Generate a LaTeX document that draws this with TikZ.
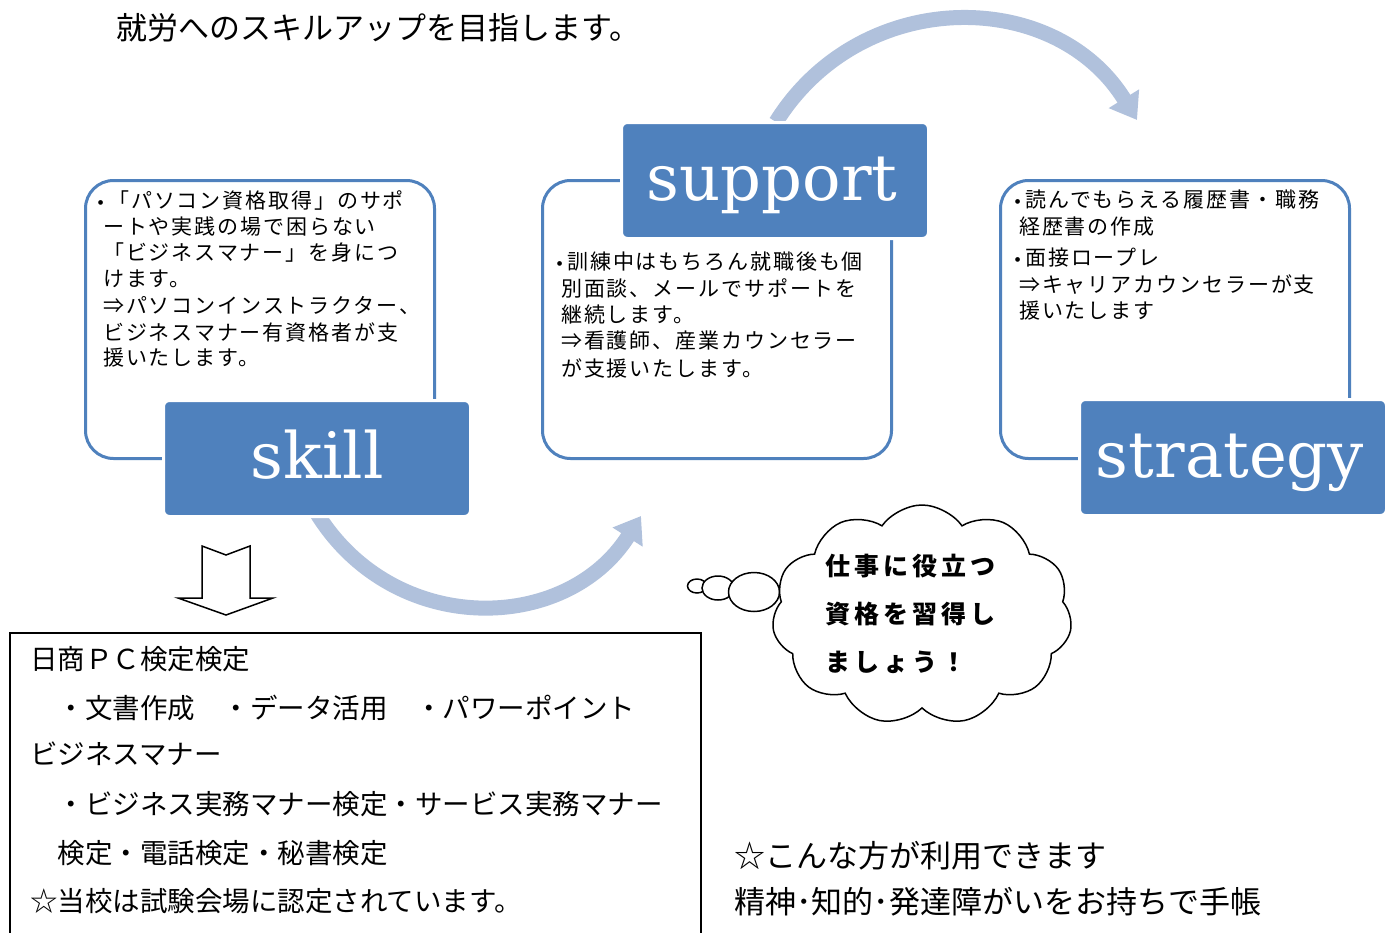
\documentclass[tikz,border=0pt]{standalone}
\usepackage{fontspec}
\newfontfamily\jp{Noto Sans CJK JP}
\newfontfamily\jpsp{Noto Sans CJK JP}[LetterSpace=9]
\newfontfamily\jpcl{Noto Sans CJK JP}[LetterSpace=16]
\newfontfamily\tagfont{DejaVu Serif}
\usetikzlibrary{arrows.meta,shapes.symbols,shapes.geometric}
\definecolor{accent}{HTML}{4F81BD}
\definecolor{arcblue}{HTML}{B0C1DC}
\tikzset{
  infobox/.style={draw=accent, line width=3pt, rounded corners=28pt, fill=white,
    minimum width=349pt, minimum height=278pt, anchor=north west, inner sep=0pt},
  tagbox/.style={fill=accent, draw=white, line width=3pt, rounded corners=6pt,
    minimum width=307pt, minimum height=116pt, anchor=north west, inner sep=0pt},
  tagtext/.style={text=white, font=\tagfont\fontsize{64}{70}\selectfont, anchor=base, inner sep=0pt},
  boxline/.style={font=\jpsp\fontsize{21}{26}\selectfont, anchor=west, inner sep=0pt},
  certline/.style={font=\jp\fontsize{27.5}{32}\selectfont, anchor=west, inner sep=0pt},
  cloudline/.style={font=\jpcl\bfseries\fontsize{25}{30}\selectfont, anchor=west, inner sep=0pt},
  cyc/.style={draw=arcblue, line width=15pt, -{Triangle[width=34pt,length=25pt]}},
  bubble/.style={ellipse, draw, line width=1.5pt, fill=white, inner sep=0pt},
}
\newcommand{\bul}{{\rmfamily\textbullet}}
\begin{document}
\begin{tikzpicture}[x=1pt,y=-1pt]
\clip (0,0) rectangle (1392,932);
\fill[white] (0,0) rectangle (1392,932);

% title
\node[anchor=west, inner sep=0pt, font=\jp\fontsize{31}{36}\selectfont] (title) at (116,28) {就労へのスキルアップを目指します。};

% cycle arrows
\coordinate (a1s) at (316,512);
\coordinate (a1e) at (641,516);
\draw[cyc] (a1s) .. controls (393,638) and (566,634) .. (a1e);
\coordinate (a2s) at (776,122);
\coordinate (a2e) at (1137,120);
\draw[cyc] (a2s) .. controls (861,-14) and (1055,-13) .. (a2e);

% info boxes
\node[infobox] (skb) at (84,179) {};
\node[infobox] (spb) at (541,179) {};
\node[infobox] (stb) at (999,179) {};

% tags
\node[tagbox] (skl) at (162,399) {};
\node[tagtext] (sklt) at (317,478) {skill};
\node[tagbox] (spl) at (620,121) {};
\node[tagtext] (splt) at (772,200) {support};
\node[tagbox] (stl) at (1078,398) {};
\node[tagtext] (stlt) at (1230,477) {strategy};

% skill text
\node[boxline] (sk1) at (93,200) {\bul「パソコン資格取得」のサポ};
\node[boxline] (sk2) at (103,227) {ートや実践の場で困らない};
\node[boxline] (sk3) at (103,253) {「ビジネスマナー」を身につ};
\node[boxline] (sk4) at (103,279) {けます。};
\node[boxline] (sk5) at (103,306) {⇒パソコンインストラクター、};
\node[boxline] (sk6) at (103,332) {ビジネスマナー有資格者が支};
\node[boxline] (sk7) at (103,358) {援いたします。};

% support text
\node[boxline] (sp1) at (552,262) {\bul 訓練中はもちろん就職後も個};
\node[boxline] (sp2) at (561,288) {別面談、メールでサポートを};
\node[boxline] (sp3) at (561,315) {継続します。};
\node[boxline] (sp4) at (561,341) {⇒看護師、産業カウンセラー};
\node[boxline] (sp5) at (561,368) {が支援いたします。};

% strategy text
\node[boxline] (st1) at (1010,200) {\bul 読んでもらえる履歴書・職務};
\node[boxline] (st2) at (1019,227) {経歴書の作成};
\node[boxline] (st3) at (1010,258) {\bul 面接ロープレ};
\node[boxline] (st4) at (1019,285) {⇒キャリアカウンセラーが支};
\node[boxline] (st5) at (1019,311) {援いたします};

% down arrow
\draw[line width=1.5pt, fill=white, line join=miter]
  (202,546) -- (226,555) -- (250,546) -- (250,598) -- (273,598)
  -- (226,615) -- (178,598) -- (202,598) -- cycle;

% certificate box
\node[draw, line width=2pt, minimum width=691pt, minimum height=330pt,
  anchor=north west, inner sep=0pt] (cert) at (9,632) {};
\node[certline] (c1) at (30,659) {日商ＰＣ検定検定};
\node[certline] (c2) at (30,708) {　・文書作成　・データ活用　・パワーポイント};
\node[certline] (c3) at (30,754) {ビジネスマナー};
\node[certline] (c4) at (30,804) {　・ビジネス実務マナー検定・サービス実務マナー};
\node[certline] (c5) at (30,853) {　検定・電話検定・秘書検定};
\node[certline] (c6) at (30,901) {☆当校は試験会場に認定されています。};

% thought cloud
\node[bubble, minimum width=19pt, minimum height=14pt] (b1) at (697,586) {};
\node[bubble, minimum width=32pt, minimum height=24pt] (b2) at (718,588) {};
\node[bubble, minimum width=51pt, minimum height=39pt] (b3) at (754,592) {};
\node[cloud, draw, line width=1.5pt, fill=white, cloud puffs=11, cloud puff arc=110,
  aspect=1.4, minimum width=300pt, minimum height=220pt, inner sep=0pt] (cloud) at (922,615) {};
\node[cloudline] (cl1) at (825,566) {仕事に役立つ};
\node[cloudline] (cl2) at (825,614) {資格を習得し};
\node[cloudline] (cl3) at (825,662) {ましょう！};

% bottom right
\node[anchor=west, inner sep=0pt, font=\jp\fontsize{31}{36}\selectfont] (who) at (734,856) {☆こんな方が利用できます};
\node[anchor=west, inner sep=0pt, font=\jp\fontsize{31}{36}\selectfont] (who2) at (734,902) {精神･知的･発達障がいをお持ちで手帳};
\end{tikzpicture}
\end{document}
